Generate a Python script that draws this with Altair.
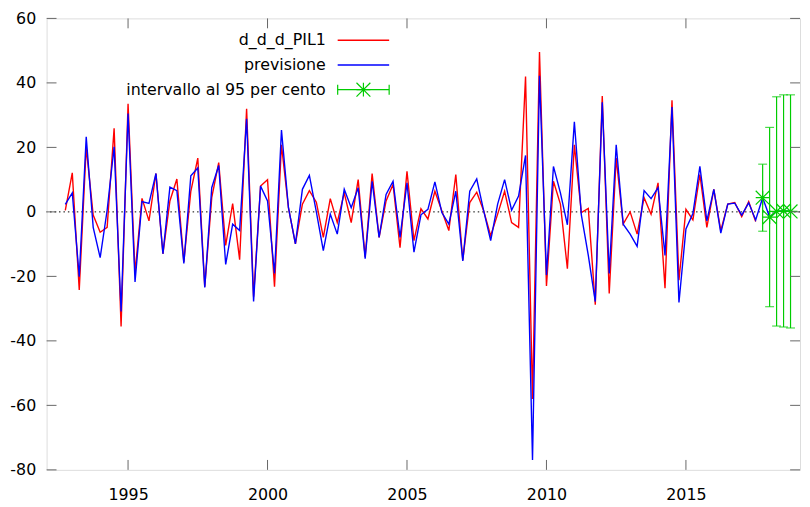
import altair as alt
import pandas as pd

FONT = "DejaVu Sans"
FS = 16

# ---- data ----
start_year = 1992.75          # 1992Q4
step = 0.25                   # quarterly

actual = [0.5, 12.1, -24.2, 20.0, -1.0, -6.3, -4.8, 25.9, -35.5, 33.5,
          -19.0, 4.2, -2.8, 11.9, -13.0, 3.4, 10.2, -15.5, 6.4, 16.7,
          -23.2, 4.4, 15.3, -10.4, 2.6, -14.8, 32.0, -26.3, 8.0, 10.0,
          -23.2, 20.8, 1.3, -9.9, 2.4, 6.6, 3.0, -7.9, 4.1, -3.3,
          5.9, -3.3, 10.0, -14.0, 11.9, -7.9, 3.4, 8.5, -11.1, 12.6,
          -8.9, 1.0, -2.2, 6.4, 0.3, -5.8, 11.6, -15.0, 2.9, 6.1,
          0.3, -7.4, -0.7, 6.4, -3.3, -4.8, 42.0, -58.0, 49.6, -23.0,
          9.5, 2.4, -17.6, 20.8, -0.2, 1.1, -28.8, 35.9, -25.3, 16.7,
          -3.8, 0.0, -6.9, 4.4, -0.7, 9.0, -23.7, 34.6, -21.2, 0.8,
          -2.5, 11.6, -4.8, 7.0, -5.8, 2.4, 2.9, -1.5, 3.2, -3.0]

fitted = [2.3, 5.9, -20.1, 23.3, -4.8, -14.2, 0.5, 20.2, -30.9, 30.5,
          -21.7, 3.2, 2.6, 11.9, -13.0, 7.7, 6.6, -16.0, 11.2, 13.6,
          -23.4, 7.5, 14.4, -16.3, -3.8, -5.8, 28.9, -27.8, 8.0, 3.4,
          -19.1, 25.4, 1.3, -9.9, 7.0, 11.3, 0.0, -12.0, -0.7, -6.9,
          7.0, 1.3, 7.5, -14.5, 9.5, -7.9, 5.4, 9.5, -7.9, 9.0,
          -12.5, -0.9, 0.8, 9.3, -0.2, -3.8, 6.4, -15.2, 6.4, 10.2,
          0.3, -8.9, 2.4, 10.0, 0.5, 4.9, 17.5, -76.9, 42.2, -19.6,
          14.1, 5.9, -4.0, 27.9, -0.9, -13.5, -27.8, 34.0, -19.1, 20.8,
          -3.8, -6.9, -10.7, 6.6, 4.1, 7.5, -13.5, 32.5, -28.1, -5.3,
          -0.5, 14.1, -2.8, 7.0, -6.6, 2.4, 2.7, -1.0, 2.8, -2.5]

fc_center = [4.4, -1.6, 0.15, 0.3, 0.15]
fc_low = [-6.0, -29.4, -35.4, -35.7, -36.0]
fc_high = [14.8, 26.2, 35.7, 36.3, 36.3]

x_ticks = [1995, 2000, 2005, 2010, 2015]
y_ticks = [-80, -60, -40, -20, 0, 20, 40, 60]

legend_labels = ["d_d_d_PIL1", "previsione", "intervallo al 95 per cento"]

# ---- tables ----
n_act = len(actual)
t_act = [start_year + step * i for i in range(n_act)]
t_fc = [start_year + step * (n_act + i) for i in range(len(fc_center))]

df_red = pd.DataFrame({"t": t_act, "v": actual})
df_blue = pd.DataFrame({"t": t_act + t_fc, "v": fitted + fc_center})
df_fc = pd.DataFrame({"t": t_fc, "c": fc_center, "lo": fc_low, "hi": fc_high})
df_xt = pd.DataFrame({"v": x_ticks})
df_yt = pd.DataFrame({"v": y_ticks})
df_zero = pd.DataFrame({"v": [0]})

W, H = 761, 456
FRAME = "#666666"
RED, BLUE, GREEN = "#ff0000", "#0000ff", "#00cc00"

xs = alt.Scale(domain=[1992.08, 2019.09], nice=False, zero=False)
ys = alt.Scale(domain=[-80, 60], nice=False, zero=False)

xaxis = alt.Axis(values=x_ticks, labelExpr="'' + datum.value", grid=False, ticks=False,
                 tickSize=0, domain=False, labelFont=FONT, labelFontSize=FS,
                 labelColor="black", labelPadding=17, title=None)
yaxis = alt.Axis(values=y_ticks, labelExpr="'' + datum.value", grid=False, ticks=False,
                 tickSize=0, domain=False, labelFont=FONT, labelFontSize=FS,
                 labelColor="black", labelPadding=11, title=None)

zero = alt.Chart(df_zero).mark_rule(color="black", strokeDash=[1.5, 3], strokeWidth=1).encode(
    y=alt.Y("v:Q", scale=ys, axis=yaxis))

red = alt.Chart(df_red).mark_line(color=RED, strokeWidth=1.4).encode(
    x=alt.X("t:Q", scale=xs, axis=xaxis), y=alt.Y("v:Q", scale=ys))
blue = alt.Chart(df_blue).mark_line(color=BLUE, strokeWidth=1.4).encode(
    x=alt.X("t:Q", scale=xs), y=alt.Y("v:Q", scale=ys))

bars = alt.Chart(df_fc).mark_rule(color=GREEN, strokeWidth=1.2).encode(
    x=alt.X("t:Q", scale=xs), y=alt.Y("lo:Q", scale=ys), y2="hi:Q")
cap_lo = alt.Chart(df_fc).mark_tick(color=GREEN, orient="horizontal", size=9, thickness=1.2).encode(
    x=alt.X("t:Q", scale=xs), y=alt.Y("lo:Q", scale=ys))
cap_hi = alt.Chart(df_fc).mark_tick(color=GREEN, orient="horizontal", size=9, thickness=1.2).encode(
    x=alt.X("t:Q", scale=xs), y=alt.Y("hi:Q", scale=ys))
STAR = "M-1,0H1M0,-1V1M-1,-1L1,1M-1,1L1,-1"
stars = alt.Chart(df_fc).mark_point(shape=STAR, size=196, filled=False, color=GREEN,
                                    strokeWidth=1.2, opacity=1).encode(
    x=alt.X("t:Q", scale=xs), y=alt.Y("c:Q", scale=ys))

# inward ticks on all four sides
tk = dict(color=FRAME, strokeWidth=1)
xt_bot = alt.Chart(df_xt).mark_rule(**tk).encode(
    x=alt.X("v:Q", scale=xs), y=alt.value(H), y2=alt.value(H - 10))
xt_top = alt.Chart(df_xt).mark_rule(**tk).encode(
    x=alt.X("v:Q", scale=xs), y=alt.value(0), y2=alt.value(10))
yt_left = alt.Chart(df_yt).mark_rule(**tk).encode(
    y=alt.Y("v:Q", scale=ys), x=alt.value(0), x2=alt.value(10))
yt_right = alt.Chart(df_yt).mark_rule(**tk).encode(
    y=alt.Y("v:Q", scale=ys), x=alt.value(W - 10), x2=alt.value(W))

# legend (top-left, labels left of samples)
LX_TEXT, LX0, LX1 = 282, 294, 346
rows_y = [22, 47, 72]
one = pd.DataFrame({"k": [0]})
leg = []
for lab, yy in zip(legend_labels, rows_y):
    leg.append(alt.Chart(one).mark_text(text=lab, align="right", baseline="middle",
                                        font=FONT, fontSize=FS, color="black").encode(
        x=alt.value(LX_TEXT), y=alt.value(yy)))
leg.append(alt.Chart(one).mark_rule(color=RED, strokeWidth=1.4).encode(
    x=alt.value(LX0), x2=alt.value(LX1), y=alt.value(rows_y[0])))
leg.append(alt.Chart(one).mark_rule(color=BLUE, strokeWidth=1.4).encode(
    x=alt.value(LX0), x2=alt.value(LX1), y=alt.value(rows_y[1])))
leg.append(alt.Chart(one).mark_rule(color=GREEN, strokeWidth=1.2).encode(
    x=alt.value(LX0), x2=alt.value(LX1), y=alt.value(rows_y[2])))
leg.append(alt.Chart(one).mark_rule(color=GREEN, strokeWidth=1.2).encode(
    x=alt.value(LX0), y=alt.value(rows_y[2] - 5), y2=alt.value(rows_y[2] + 5)))
leg.append(alt.Chart(one).mark_rule(color=GREEN, strokeWidth=1.2).encode(
    x=alt.value(LX1), y=alt.value(rows_y[2] - 5), y2=alt.value(rows_y[2] + 5)))
leg.append(alt.Chart(one).mark_point(shape=STAR, size=196, filled=False, color=GREEN,
                                     strokeWidth=1.2, opacity=1).encode(
    x=alt.value((LX0 + LX1) / 2), y=alt.value(rows_y[2])))

chart = alt.layer(zero, red, blue, bars, cap_lo, cap_hi, stars,
                  xt_bot, xt_top, yt_left, yt_right, *leg).properties(
    width=W, height=H,
    autosize=alt.AutoSizeParams(type="none"),
    padding={"left": 39, "top": 8, "right": 2, "bottom": 35},
).configure_view(stroke=FRAME, strokeWidth=1).configure(background="white")

chart.save("out.html", embed_options={"renderer": "svg", "actions": False})
